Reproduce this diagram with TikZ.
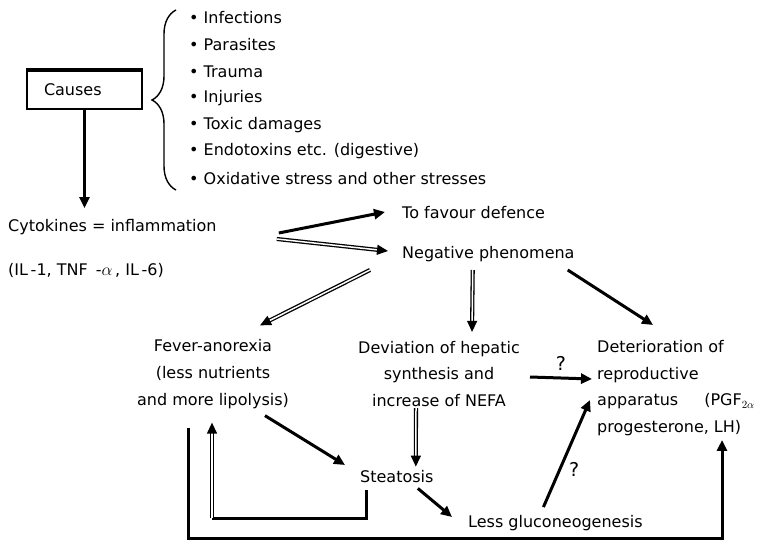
\documentclass[tikz,border=0pt]{standalone}
\usepackage{fontspec}
\setmainfont{DejaVu Sans}
\usetikzlibrary{arrows.meta,calc,decorations.pathreplacing}
\tikzset{
    every node/.style={inner sep=0pt, font=\fontsize{16}{26.7}\selectfont},
    causebox/.style={draw, line width=1.6pt, text width=81pt, inner xsep=17pt,
        minimum height=38pt, align=left},
    thickarr/.style={line width=3pt, -{Triangle[length=11pt,width=10pt]}},
    dblarr/.style={double, double distance=1.5pt, line width=1.3pt,
        -{Triangle[length=11pt,width=10pt]}},
    thickline/.style={line width=3pt},
    qmark/.style={font=\fontsize{19}{20}\selectfont}
}
\begin{document}
\begin{tikzpicture}[x=1pt,y=-1pt]
    \useasboundingbox (0,0) rectangle (767,540);
    % causes
    \node[causebox] (causes) at (84.5,90) {Causes};
    \draw[line width=4pt] (causes.north west) -- (causes.north east);
    \draw[decorate, decoration={brace, amplitude=24pt, aspect=0.5}, line width=1.4pt]
        (176,190) -- (176,10);
    \foreach \txt [count=\i] in {Infections, Parasites, Trauma, Injuries, Toxic damages,
        {Endotoxins etc. (digestive)}, Oxidative stress and other stresses}
        \node[anchor=west] (item\i) at (189,{18+(\i-1)*26.7}) {• \txt};
    % texts
    \node[anchor=west] (cyto) at (8,227) {Cytokines = inflammation};
    \node[anchor=west] (il) at (8,270) {(IL\,-1, TNF\enspace-$\alpha$\,, IL\,-6)};
    \node[anchor=west] (favour) at (402,213) {To favour defence};
    \node[anchor=west] (neg) at (402,254) {Negative phenomena};
    \node[align=center] (fever) at (213,374) {Fever-anorexia\\(less nutrients\\and more lipolysis)};
    \node[align=center] (hep) at (439,374) {Deviation of hepatic\\synthesis and\\increase of NEFA};
    \node[align=left, anchor=west] (det) at (597,388)
        {Deterioration of\\reproductive\\apparatus\hspace{26pt}(PGF$_{2\alpha}$\\progesterone, LH)};
    \node[anchor=west] (steat) at (360,477) {Steatosis};
    \node[anchor=west] (gluco) at (468,523) {Less gluconeogenesis};
    \coordinate (fbcorner) at (212,518);
    \coordinate (loopR) at (722,538);
    % arrows
    \draw[thickarr, shorten >=11pt] (causes.south) -- (causes.south |- cyto.north);
    \draw[thickarr] ([shift={(62,6)}]cyto.east) -- ([shift={(-17,-1)}]favour.west);
    \draw[dblarr] ([shift={(60,12)}]cyto.east) -- ([shift={(-14,-3)}]neg.west);
    \draw[dblarr] ([shift={(-32,16)}]neg.west) -- ([shift={(47,-14)}]fever.north);
    \draw[dblarr] ([shift={(-102,16)}]neg.east) -- ([shift={(33,-9)}]hep.north);
    \draw[thickarr] ([shift={(-7,16)}]neg.east) -- ([shift={(56,-15)}]det.north west);
    \draw[thickarr] ([shift={(10,3)}]hep.east) -- node[midway, above=6pt, qmark] (q1) {?}
        ([shift={(-5,-9)}]det.west);
    \draw[dblarr] ([shift={(-23,1)}]hep.south) -- ([shift={(19,-4)}]steat.north);
    \draw[thickarr] ([shift={(52,7)}]fever.south) -- ([shift={(-15,-12)}]steat.west);
    \draw[thickarr] ([shift={(21,5)}]steat.south) -- ([shift={(-16,-6)}]gluco.west);
    \draw[thickarr] ([shift={(-12,-8)}]gluco.north) -- node[pos=0.35, right=8pt, qmark] (q2) {?}
        ([shift={(-7,12)}]det.west);
    % feedback loops
    \draw[thickline] ([shift={(6,7)}]steat.south west) |- (fbcorner);
    \draw[dblarr, shorten >=14pt] (fbcorner) -- ([xshift=-1pt]fever.south);
    \draw[thickarr, shorten >=4pt] ([shift={(-25,19)}]fever.south) |- (loopR) -- (loopR |- det.south);
\end{tikzpicture}
\end{document}
